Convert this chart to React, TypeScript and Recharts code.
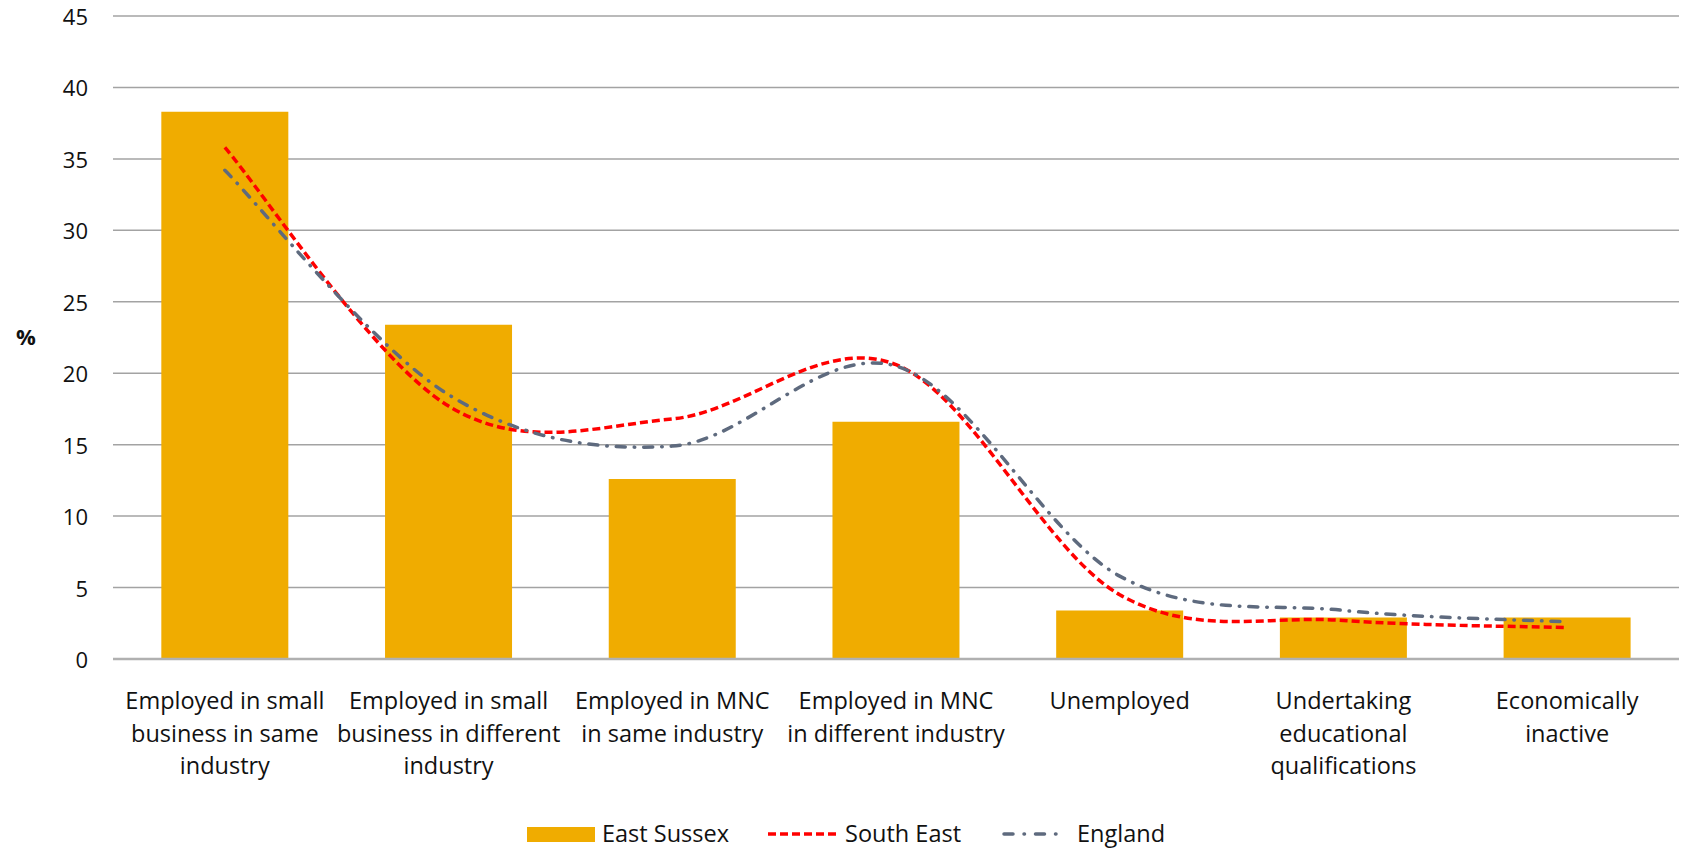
import React from "react";
import {
  Bar,
  CartesianGrid,
  ComposedChart,
  Line,
  XAxis,
  YAxis,
} from "recharts";

const categories = [
  "Employed in small\nbusiness in same\nindustry",
  "Employed in small\nbusiness in different\nindustry",
  "Employed in MNC\nin same industry",
  "Employed in MNC\nin different industry",
  "Unemployed",
  "Undertaking\neducational\nqualifications",
  "Economically\ninactive",
];

const eastSussex = [38.3, 23.4, 12.6, 16.6, 3.4, 2.9, 2.9];
const southEast = [35.8, 17.7, 16.8, 20.6, 4.5, 2.7, 2.2];
const england = [34.2, 18.5, 14.9, 20.5, 5.8, 3.4, 2.6];

const yTicks = [0, 5, 10, 15, 20, 25, 30, 35, 40, 45];

const data = categories.map((name, i) => ({
  name,
  eastSussex: eastSussex[i],
  southEast: southEast[i],
  england: england[i],
}));

const FONT = "'Open Sans', sans-serif";
const BAR = "#F0AC00";
const RED = "#FF0000";
const SLATE = "#5E6A7E";

// spreadsheet-style smoothed line: cubic beziers through every point,
// control points a sixth of the neighbour chord away
function smoothCurve(context: any) {
  let pts: number[][] = [];
  return {
    areaStart() {},
    areaEnd() {},
    lineStart() {
      pts = [];
    },
    point(x: number, y: number) {
      pts.push([+x, +y]);
    },
    lineEnd() {
      const n = pts.length;
      if (!n) return;
      context.moveTo(pts[0][0], pts[0][1]);
      for (let i = 0; i < n - 1; i++) {
        const p0 = pts[Math.max(i - 1, 0)];
        const p1 = pts[i];
        const p2 = pts[i + 1];
        const p3 = pts[Math.min(i + 2, n - 1)];
        context.bezierCurveTo(
          p1[0] + (p2[0] - p0[0]) / 6,
          p1[1] + (p2[1] - p0[1]) / 6,
          p2[0] - (p3[0] - p1[0]) / 6,
          p2[1] - (p3[1] - p1[1]) / 6,
          p2[0],
          p2[1]
        );
      }
    },
  };
}

function CategoryTick(props: any) {
  const { x, y, payload } = props;
  const lines = String(payload.value).split("\n");
  return (
    <text
      x={x}
      y={y}
      textAnchor="middle"
      fontFamily={FONT}
      fontSize={23.5}
      fill="#111"
    >
      {lines.map((line, i) => (
        <tspan key={i} x={x} dy={i === 0 ? 48 : 32.7}>
          {line}
        </tspan>
      ))}
    </text>
  );
}

function ValueTick(props: any) {
  const { x, y, payload } = props;
  return (
    <text
      x={x}
      y={y + 9}
      textAnchor="end"
      fontFamily={FONT}
      fontSize={22}
      fill="#111"
    >
      {payload.value}
    </text>
  );
}

function Legend() {
  return (
    <svg
      width={1681}
      height={40}
      style={{ position: "absolute", left: 0, top: 814 }}
      fontFamily={FONT}
      fontSize={23.5}
    >
      <rect x={527} y={13} width={68} height={15} fill={BAR} />
      <text x={602} y={28} fill="#111">
        East Sussex
      </text>
      <line
        x1={768}
        y1={20}
        x2={840}
        y2={20}
        stroke={RED}
        strokeWidth={3.5}
        strokeDasharray="8 4"
      />
      <text x={845} y={28} fill="#111">
        South East
      </text>
      <line
        x1={1004}
        y1={20}
        x2={1060}
        y2={20}
        stroke={SLATE}
        strokeWidth={3.5}
        strokeLinecap="round"
        strokeDasharray="9 11 0.5 11"
      />
      <text x={1077} y={28} fill="#111">
        England
      </text>
    </svg>
  );
}

export default function App() {
  return (
    <div
      style={{
        position: "absolute",
        left: 0,
        top: 0,
        width: 1681,
        height: 848,
        background: "#fff",
      }}
    >
      <ComposedChart
        width={1681}
        height={848}
        data={data}
        margin={{ top: 16, right: 2, bottom: 79, left: 0 }}
        barCategoryGap="21.6%"
      >
        <CartesianGrid vertical={false} stroke="#A3A3A3" strokeWidth={1.5} />
        <XAxis
          dataKey="name"
          interval={0}
          height={110}
          tickLine={false}
          tickSize={0}
          axisLine={{ stroke: "#B0B0B0", strokeWidth: 2.5 }}
          tick={<CategoryTick />}
        />
        <YAxis
          domain={[0, 45]}
          ticks={yTicks}
          width={113}
          axisLine={false}
          tickLine={false}
          tickSize={0}
          tickMargin={25}
          tick={<ValueTick />}
          label={{
            value: "%",
            position: "insideLeft",
            offset: 16,
            fontFamily: FONT,
            fontSize: 22,
            fontWeight: 700,
            fill: "#111",
          }}
        />
        <Bar dataKey="eastSussex" name="East Sussex" fill={BAR} isAnimationActive={false} />
        <Line
          dataKey="southEast"
          name="South East"
          type={smoothCurve as any}
          stroke={RED}
          strokeWidth={3.5}
          strokeDasharray="8 4"
          dot={false}
          activeDot={false}
          isAnimationActive={false}
        />
        <Line
          dataKey="england"
          name="England"
          type={smoothCurve as any}
          stroke={SLATE}
          strokeWidth={3.5}
          strokeLinecap="round"
          strokeDasharray="9 9 0.5 9"
          dot={false}
          activeDot={false}
          isAnimationActive={false}
        />
      </ComposedChart>
      <Legend />
    </div>
  );
}
